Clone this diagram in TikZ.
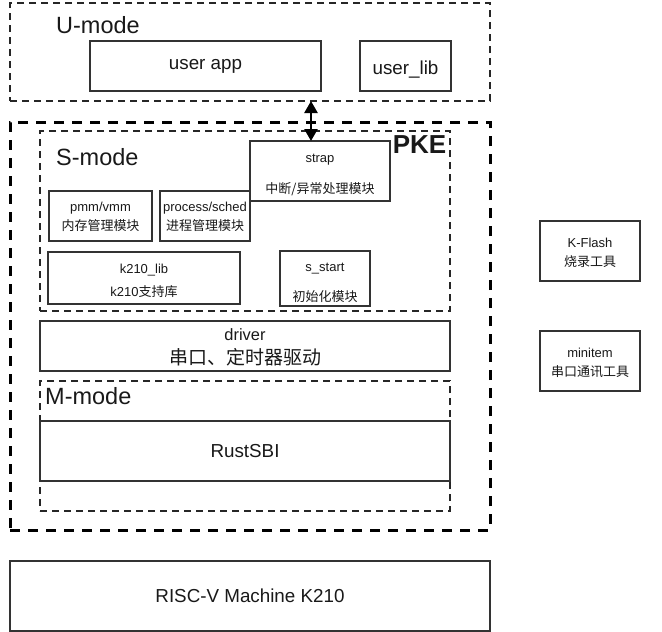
\documentclass[tikz,border=0pt]{standalone}
\usepackage{fontspec}
\setmainfont{Liberation Sans}
\newfontfamily\cjk{Noto Sans CJK SC}
\usetikzlibrary{arrows.meta}
\begin{document}
\begin{tikzpicture}[x=1pt,y=-1pt,
  box/.style={draw=black!80, line width=1.5pt, fill=white, inner sep=0pt, outer sep=0pt},
  dashthin/.style={draw=black!85, line width=1.2pt, dash pattern=on 7pt off 5pt, inner sep=0pt, outer sep=0pt},
  dashthick/.style={draw=black, line width=3pt, dash pattern=on 10pt off 8pt, inner sep=0pt, outer sep=0pt},
  txt/.style={inner sep=0pt, text=black!90},
  fbig/.style={font=\fontsize{23.5}{28}\selectfont},
  fpke/.style={font=\fontsize{26}{30}\selectfont\bfseries},
  fmid/.style={font=\fontsize{18.8}{22}\selectfont},
  fsmall/.style={font=\fontsize{13}{16}\selectfont},
  fdrv/.style={font=\fontsize{16.4}{20}\selectfont},
  cjksmall/.style={font=\cjk\fontsize{13}{16}\selectfont},
  cjkdrv/.style={font=\cjk\fontsize{19}{22}\selectfont},
  dbl/.style={line width=2.5pt, {Triangle[length=12pt,width=13pt]}-{Triangle[length=12pt,width=13pt]}}
]
\useasboundingbox (0,0) rectangle (662,632);

% U-mode
\node[dashthin, minimum width=480, minimum height=98] (umode) at (250,52) {};
\node[txt, fbig, anchor=west] (ulabel) at (56,25) {U-mode};
\node[box, minimum width=231, minimum height=50] (userapp) at (205.5,66) {};
\node[txt, fmid] (userapp-t) at (205.5,66) {user app};
\node[box, minimum width=91, minimum height=50] (userlib) at (405.5,66) {};
\node[txt, fmid] (userlib-t) at (405.5,70) {user\_lib};

% PKE
\node[dashthick, minimum width=480, minimum height=408] (pke) at (250,326) {};
\node[txt, fpke] (pkelabel) at (419.5,145) {PKE};

% S-mode
\node[dashthin, minimum width=410, minimum height=180] (smode) at (245,221) {};
\node[txt, fbig, anchor=west] (slabel) at (56,157) {S-mode};

\node[box, minimum width=140, minimum height=60] (strap) at (320,171) {};
\node[txt, fsmall] (strap-t1) at (320,160) {strap};
\node[txt, cjksmall] (strap-t2) at (320,189) {中断/异常处理模块};

\node[box, minimum width=103, minimum height=50] (pmm) at (100.5,216) {};
\node[txt, fsmall] (pmm-t1) at (100.5,208) {pmm/vmm};
\node[txt, cjksmall] (pmm-t2) at (100.5,226) {内存管理模块};

\node[box, minimum width=90, minimum height=50] (proc) at (205,216) {};
\node[txt, fsmall] (proc-t1) at (205,208) {process/sched};
\node[txt, cjksmall] (proc-t2) at (205,226) {进程管理模块};

\node[box, minimum width=192, minimum height=52] (k210) at (144,278) {};
\node[txt, fsmall] (k210-t1) at (144,270) {k210\_lib};
\node[txt, fsmall] (k210-t2) at (144,292) {k210{\cjk 支持库}};

\node[box, minimum width=90, minimum height=55] (sstart) at (325,278.5) {};
\node[txt, fsmall] (sstart-t1) at (325,269) {s\_start};
\node[txt, cjksmall] (sstart-t2) at (325,297) {初始化模块};

% driver
\node[box, minimum width=410, minimum height=50] (driver) at (245,346) {};
\node[txt, fdrv] (driver-t1) at (245,335) {driver};
\node[txt, cjkdrv] (driver-t2) at (245,357) {串口、定时器驱动};

% M-mode
\node[dashthin, minimum width=410, minimum height=130] (mmode) at (245,446) {};
\node[txt, fbig, anchor=west] (mlabel) at (45,396) {M-mode};
\node[box, minimum width=410, minimum height=60] (rustsbi) at (245,451) {};
\node[txt, fmid] (rustsbi-t) at (245,451) {RustSBI};

% tools
\node[box, minimum width=100, minimum height=60] (kflash) at (590,251) {};
\node[txt, fsmall] (kflash-t1) at (590,243) {K-Flash};
\node[txt, cjksmall] (kflash-t2) at (590,262) {烧录工具};

\node[box, minimum width=100, minimum height=60] (minitem) at (590,361) {};
\node[txt, fsmall] (minitem-t1) at (590,353) {minitem};
\node[txt, cjksmall] (minitem-t2) at (590,372) {串口通讯工具};

% machine
\node[box, minimum width=480, minimum height=70] (risc) at (250,596) {};
\node[txt, fmid] (risc-t) at (250,596) {RISC-V Machine K210};

% arrow
\coordinate (ax) at (311,0);
\draw[dbl] (umode.south -| ax) -- (strap.north -| ax);
\end{tikzpicture}
\end{document}
